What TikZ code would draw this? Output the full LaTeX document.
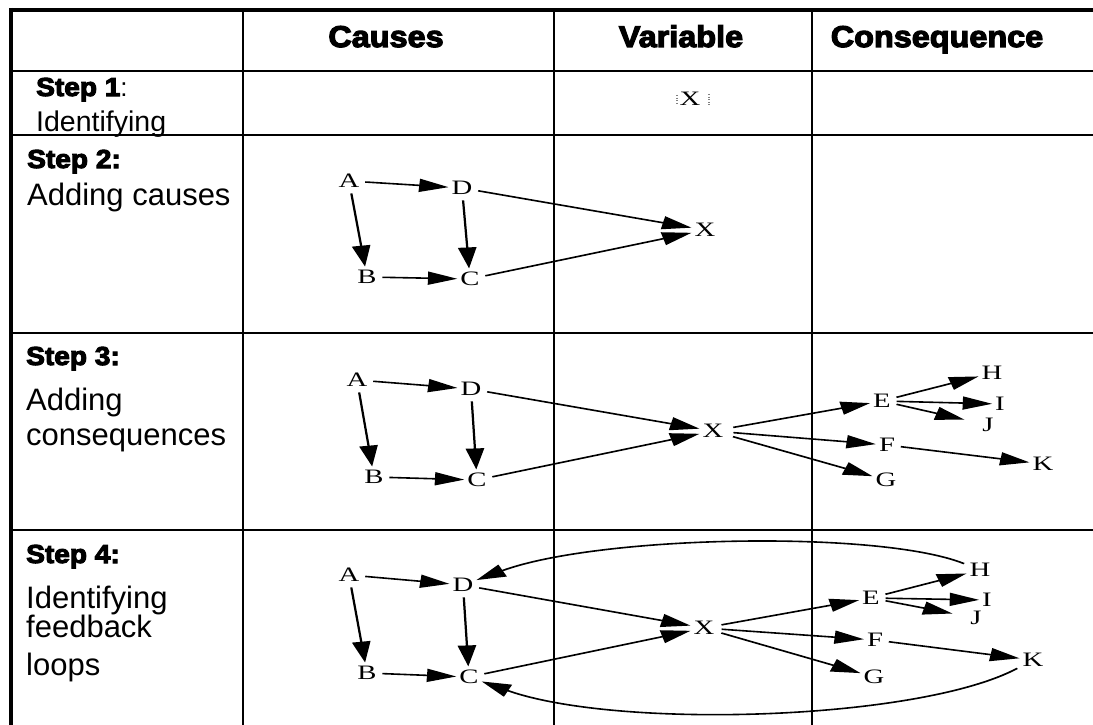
\documentclass[tikz,border=0pt]{standalone}
\usepackage{fontspec}
\setmainfont{Liberation Serif}
\newfontfamily\lab{Liberation Sans}
\newfontfamily\blk{Liberation Sans}[FakeStretch=1.08, BoldFeatures={FakeBold=4}]
\usetikzlibrary{arrows.meta}
\begin{document}
\begin{tikzpicture}[x=1pt,y=-1pt,
  hdr/.style={font=\blk\bfseries\fontsize{30}{30}\selectfont, anchor=base, inner sep=0pt},
  stp/.style={font=\blk\bfseries\fontsize{26}{26}\selectfont, anchor=base west, inner sep=0pt},
  txt/.style={font=\lab\fontsize{31}{31}\selectfont, anchor=base west, inner sep=0pt},
  var/.style={font=\fontsize{20.5}{20.5}\selectfont, inner xsep=2pt, inner ysep=3.5pt},
  ar/.style={line width=1.6pt, -{Triangle[length=21pt,width=13pt]}, shorten <=2pt},
  rule/.style={line width=2.5pt},
  frame/.style={line width=4.5pt},
  dots/.style={gray, line width=0.9pt, dash pattern=on 1pt off 1.6pt}]
\fill[white] (0,0) rectangle (1093,725);
\useasboundingbox (0,0) rectangle (1093,725);

% table rules
\draw[frame] (9,10) -- (1093,10);
\draw[frame] (11,8) -- (11,725);
\foreach \x in {243,554,812} \draw[rule] (\x,10) -- (\x,725);
\foreach \y in {71,135,333,530} \draw[rule] (11,\y) -- (1093,\y);

% headers
\node[hdr] (hC) at (386,47) {Causes};
\node[hdr] (hV) at (681,47) {Variable};
\node[hdr] (hQ) at (937,47) {Consequence};

% step labels
\node[stp] (s1) at (36,96) {Step 1{\lab\mdseries:}};
\node[txt, font=\lab\fontsize{28.5}{28.5}\selectfont] (t1) at (36,131) {Identifying};
\node[stp] (s2) at (27,168) {Step 2:};
\node[txt] (t2) at (27,205) {Adding causes};
\node[stp] (s3) at (26,365) {Step 3:};
\node[txt] (t3a) at (26,410) {Adding};
\node[txt] (t3b) at (26,445) {consequences};
\node[stp] (s4) at (26,563) {Step 4:};
\node[txt] (t4a) at (26,608) {Identifying};
\node[txt] (t4b) at (26,637) {feedback};
\node[txt] (t4c) at (26,675) {loops};

\begin{scope}[x=0.7142857pt, transform canvas={xscale=1.4}]
  % step 1
  \node[var] (X1) at (690,99) {X};
  \draw[dots] (677,95) -- (677,104);
  \draw[dots] (709,94) -- (709,105);

  % step 2
  \node[var] (A2) at (349,181) {A};
  \node[var] (D2) at (462,188) {D};
  \node[var] (B2) at (367,277) {B};
  \node[var] (C2) at (470,279) {C};
  \node[var] (X2) at (705,230) {X};
  \draw[ar] (A2) -- (D2);
  \draw[ar] (A2) -- (B2);
  \draw[ar] (D2) -- (C2);
  \draw[ar] (B2) -- (C2);
  \draw[ar] (D2) -- (X2);
  \draw[ar] (C2) -- (X2);

  % step 3
  \node[var] (A3) at (357,380) {A};
  \node[var] (D3) at (471,389) {D};
  \node[var] (B3) at (374,477) {B};
  \node[var] (C3) at (477,480) {C};
  \node[var] (X3) at (713,431) {X};
  \node[var] (E3) at (882,401) {E};
  \node[var] (H3) at (992,373) {H};
  \node[var] (I3) at (1000,404) {I};
  \node[var] (J3) at (988,425) {J};
  \node[var] (F3) at (887,445) {F};
  \node[var] (G3) at (886,480) {G};
  \node[var] (K3) at (1043,464) {K};
  \draw[ar] (A3) -- (D3);
  \draw[ar] (A3) -- (B3);
  \draw[ar] (D3) -- (C3);
  \draw[ar] (B3) -- (C3);
  \draw[ar] (D3) -- (X3);
  \draw[ar] (C3) -- (X3);
  \draw[ar, shorten <=5pt] (X3) -- (E3);
  \draw[ar, shorten <=5pt] (X3) -- (F3);
  \draw[ar, shorten <=5pt] (X3) -- (G3);
  \draw[ar] (E3) -- (H3);
  \draw[ar] (E3) -- (I3);
  \draw[ar, shorten >=11pt] (E3) -- (J3);
  \draw[ar] (F3) -- (K3);

  % step 4
  \node[var] (A4) at (349,575) {A};
  \node[var] (D4) at (463,585) {D};
  \node[var] (B4) at (367,673) {B};
  \node[var] (C4) at (469,677) {C};
  \node[var] (X4) at (704,628) {X};
  \node[var] (E4) at (871,598) {E};
  \node[var] (H4) at (980,570) {H};
  \node[var] (I4) at (987,600) {I};
  \node[var] (J4) at (976,618) {J};
  \node[var] (F4) at (875,640) {F};
  \node[var] (G4) at (874,677) {G};
  \node[var] (K4) at (1033,660) {K};
  \draw[ar] (A4) -- (D4);
  \draw[ar] (A4) -- (B4);
  \draw[ar] (D4) -- (C4);
  \draw[ar] (B4) -- (C4);
  \draw[ar] (D4) -- (X4);
  \draw[ar] (C4) -- (X4);
  \draw[ar, shorten <=3pt] (X4) -- (E4);
  \draw[ar, shorten <=3pt] (X4) -- (F4);
  \draw[ar, shorten <=3pt] (X4) -- (G4);
  \draw[ar] (E4) -- (H4);
  \draw[ar] (E4) -- (I4);
  \draw[ar, shorten >=11pt] (E4) -- (J4);
  \draw[ar] (F4) -- (K4);
  \draw[ar] (H4) .. controls (880,530) and (600,535) .. (D4);
  \draw[ar] (K4) .. controls (920,720) and (620,730) .. (C4);
\end{scope}
\end{tikzpicture}
\end{document}
